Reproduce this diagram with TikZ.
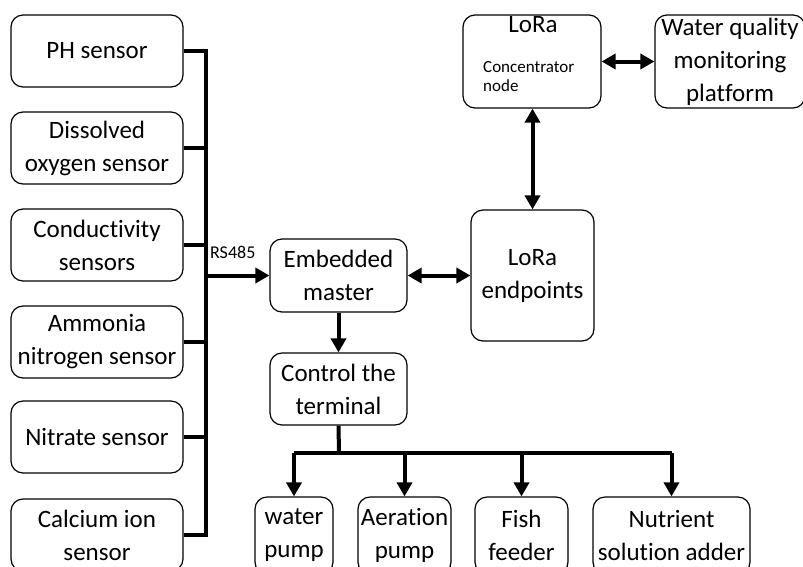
\documentclass[tikz,border=0pt]{standalone}
\usepackage{fontspec}
\setmainfont{Carlito}[Ligatures=NoCommon]
\usetikzlibrary{arrows.meta}

\begin{document}
\begin{tikzpicture}[x=1pt,y=-1pt,
    box/.style={draw,rounded corners=12pt,line width=1.2pt,align=center,inner sep=0pt,
      font=\fontsize{25}{33}\selectfont},
    bus/.style={line width=4pt},
    arr/.style={bus,-{Triangle[length=14pt,width=15pt]}},
    darr/.style={bus,{Triangle[length=14pt,width=15pt]}-{Triangle[length=14pt,width=15pt]}}]

  \useasboundingbox (0,0) rectangle (803,566);

  % sensors
  \begin{scope}[every node/.style={box,minimum width=172pt,minimum height=72pt}]
    \node (ph)   at (97,51)  {PH sensor};
    \node (oxy)  at (97,148) {Dissolved\\oxygen sensor};
    \node (cond) at (97,245) {Conductivity\\sensors};
    \node (nh)   at (97,342) {Ammonia\\nitrogen sensor};
    \node (no)   at (97,437) {Nitrate sensor};
    \node (ca)   at (97,535) {Calcium ion\\sensor};
  \end{scope}

  % master side
  \node[box,minimum width=137pt,minimum height=73pt] (master)  at (338.5,275.5) {Embedded\\master};
  \node[box,minimum width=137pt,minimum height=72pt] (control) at (338.5,389) {Control the\\terminal};
  \node[box,minimum width=123pt,minimum height=131pt] (lora)   at (532.5,275.5) {LoRa\\endpoints};
  \node[box,minimum width=138pt,minimum height=93pt] (conc)    at (532,61.5) {};
  \node[box,minimum width=150pt,minimum height=93pt] (platform) at (730,61.5) {Water quality\\monitoring\\platform};

  \node[anchor=base,font=\fontsize{25}{33}\selectfont] (conctitle) at (533,32) {LoRa};
  \node[anchor=north west,inner sep=0pt,align=left,font=\fontsize{17}{19}\selectfont] (concsub) at (483,61) {Concentrator\\node};

  % actuators
  \begin{scope}[every node/.style={box,minimum height=77pt}]
    \node[minimum width=78pt]  (pump)  at (294,535.5)   {water\\pump};
    \node[minimum width=93pt]  (aer)   at (404.5,535.5) {Aeration\\pump};
    \node[minimum width=93pt]  (fish)  at (521.5,535.5) {Fish\\feeder};
    \node[minimum width=157pt] (nutr)  at (671.5,535.5) {Nutrient\\solution adder};
  \end{scope}

  \node[anchor=base west,inner sep=0pt,font=\fontsize{18}{20}\selectfont] (rs) at (210,258) {RS485};

  % bus
  \coordinate (bt) at (206,51);
  \coordinate (bb) at (206,535);
  \draw[bus] (ph.east) -- (bt) -- (bb) -- (ca.east);
  \foreach \s in {oxy,cond,nh,no}
    \draw[bus] (\s.east) -- (\s.east -| bt);
  \draw[arr] (master.west -| bt) -- (master.west);

  \draw[arr] (master.south) -- (control.north);
  \draw[darr] (master.east) -- (lora.west);
  \draw[darr] (conc.south -| lora.north) -- (lora.north);
  \draw[darr] (conc.east) -- (platform.west);

  % outputs
  \coordinate (split) at (339,453);
  \draw[bus] (control.south) -- (split);
  \draw[bus] (pump.north |- split) -- (nutr.north |- split);
  \foreach \o in {pump,aer,fish,nutr}
    \draw[arr] (\o.north |- split) -- (\o.north);

\end{tikzpicture}
\end{document}
